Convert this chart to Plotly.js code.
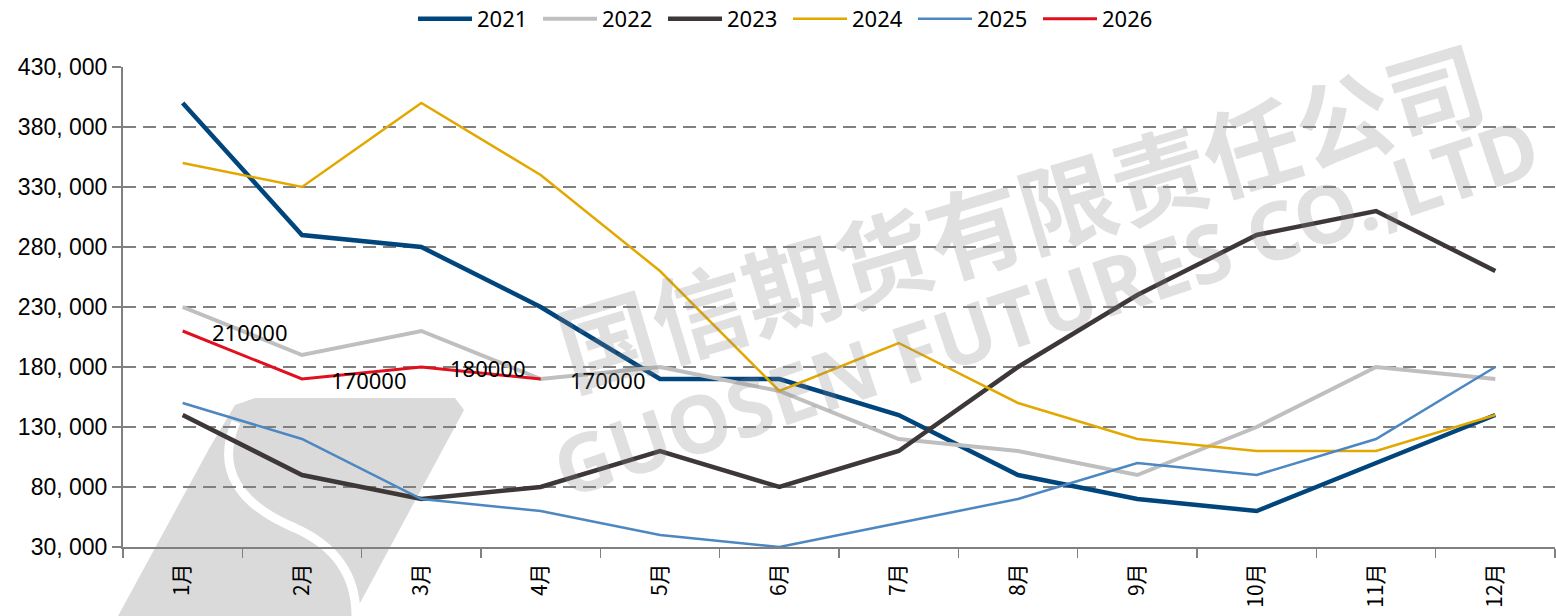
<!DOCTYPE html>
<html>
<head>
<meta charset="utf-8">
<script src="https://cdn.plot.ly/plotly-3.0.1.min.js"></script>
<style>html,body{margin:0;padding:0;background:#fff;}#chart{width:1556px;height:616px;}</style>
</head>
<body>
<div id="chart"></div>
<script>
const months = ['1月','2月','3月','4月','5月','6月','7月','8月','9月','10月','11月','12月'];
const s2021 = [400000,290000,280000,230000,170000,170000,140000,90000,70000,60000,100000,140000];
const s2022 = [230000,190000,210000,170000,180000,160000,120000,110000,90000,130000,180000,170000];
const s2023 = [140000,90000,70000,80000,110000,80000,110000,180000,240000,290000,310000,260000];
const s2024 = [350000,330000,400000,340000,260000,160000,200000,150000,120000,110000,110000,140000];
const s2025 = [150000,120000,70000,60000,40000,30000,50000,70000,100000,90000,120000,180000];
const s2026 = [210000,170000,180000,170000];
const seriesNames = ['2021','2022','2023','2024','2025','2026'];
const yTickVals = [30000,80000,130000,180000,230000,280000,330000,380000,430000];
const yTickText = ['30, 000','80, 000','130, 000','180, 000','230, 000','280, 000','330, 000','380, 000','430, 000'];
const watermarkCN = '国信期货有限责任公司';
const watermarkEN = 'GUOSEN FUTURES CO.,LTD';

const seriesData = [s2021, s2022, s2023, s2024, s2025, s2026];
const styles = [
  {color:'#00457c', width:4.5},
  {color:'#bfbfbf', width:4},
  {color:'#3d3837', width:4.5},
  {color:'#e3a800', width:2.5},
  {color:'#4c87c2', width:2.5},
  {color:'#e0101f', width:3}
];

const traces = seriesData.map((vals, i) => ({
  type:'scatter', mode:'lines', name:seriesNames[i],
  x: months.slice(0, vals.length), y: vals,
  line:{color:styles[i].color, width:styles[i].width},
  hoverinfo:'skip'
}));

// pixel -> paper helpers for decorative watermark
const W = 1556, H = 616, ML = 123, MR = 1, MT = 67, MB = 69;
const PW = W - ML - MR, PH = H - MT - MB;
const px = v => (v - ML) / PW;
const py = v => (H - MB - v) / PH;

const labelAnn = s2026.map((v, i) => ({
  x: months[i], y: v, xref:'x', yref:'y', text: String(v),
  showarrow:false, xanchor:'left', yanchor:'middle', xshift:27, yshift:-1,
  font:{family:'Noto Sans, Open Sans, sans-serif', size:22, color:'#000'}
}));

const wmAnn = [
  {xref:'paper', yref:'paper', x:px(1020), y:py(212), text:watermarkCN, showarrow:false,
   xanchor:'center', yanchor:'middle', textangle:-16.7,
   font:{family:'Noto Sans CJK SC', size:96, color:'rgba(130,130,130,0.25)', weight:700}},
  {xref:'paper', yref:'paper', x:px(1045), y:py(305), text:watermarkEN, showarrow:false,
   xanchor:'center', yanchor:'middle', textangle:-18.5,
   font:{family:'Noto Sans, sans-serif', size:80, color:'rgba(130,130,130,0.25)', weight:700}}
];

function pts(list){ return list.map((p, k) => (k ? 'L' : 'M') + px(p[0]) + ',' + py(p[1])).join(' ') + ' Z'; }
const logoShapes = [
  {type:'path', xref:'paper', yref:'paper', layer:'below',
   path: pts([[118,616],[210,447],[235,405],[255,398],[455,398],[464,410],[353,616]]),
   fillcolor:'#dadada', line:{width:0}},
  {type:'path', xref:'paper', yref:'paper', layer:'below',
   path: 'M' + px(236) + ',' + py(422) + ' C' + px(215) + ',' + py(470) + ' ' + px(240) + ',' + py(505) + ' ' + px(295) + ',' + py(528) +
         ' C' + px(340) + ',' + py(548) + ' ' + px(356) + ',' + py(580) + ' ' + px(356) + ',' + py(616),
   line:{color:'#ffffff', width:9}}
];

const layout = {
  width:W, height:H,
  margin:{l:ML, r:MR, t:MT, b:MB, pad:0},
  paper_bgcolor:'#ffffff', plot_bgcolor:'rgba(0,0,0,0)',
  showlegend:true,
  legend:{orientation:'h', xref:'container', yref:'container', x:413/1556, y:1 - 19/616,
    xanchor:'left', yanchor:'middle', font:{family:'Noto Sans, sans-serif', size:22, color:'#000'},
    itemwidth:54, entrywidth:56, entrywidthmode:'pixels', tracegroupgap:0, bgcolor:'rgba(0,0,0,0)'},
  xaxis:{type:'category', categoryarray:months, range:[-0.5, 11.5], tickson:'boundaries',
    ticks:'outside', ticklen:9, tickwidth:1.5, tickcolor:'#808080',
    showline:true, linecolor:'#808080', linewidth:2, showgrid:false, zeroline:false,
    tickangle:-90, ticklabelstandoff:6,
    tickfont:{family:'Noto Sans CJK SC', size:21, color:'#000'}, fixedrange:true},
  yaxis:{range:[30000, 430000], tickvals:yTickVals, ticktext:yTickText,
    ticks:'outside', ticklen:9, tickwidth:1.5, tickcolor:'#808080',
    showline:true, linecolor:'#808080', linewidth:2,
    showgrid:true, gridcolor:'#808080', gridwidth:1.5, griddash:'13px,7px', zeroline:false,
    tickfont:{family:'Liberation Sans, Arial, sans-serif', size:23, color:'#000'}, fixedrange:true},
  shapes: logoShapes,
  annotations: labelAnn.concat(wmAnn)
};

Plotly.newPlot('chart', traces, layout, {displayModeBar:false, staticPlot:true});
</script>
</body>
</html>
